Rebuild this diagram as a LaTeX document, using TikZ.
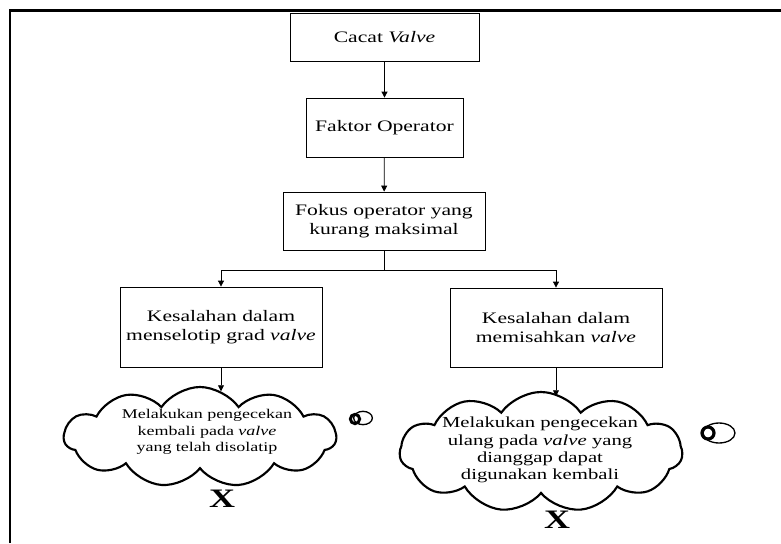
\documentclass[tikz,border=0pt]{standalone}
\usepackage{fontspec}
\setmainfont{Liberation Serif}[FakeStretch=1.35]
\usetikzlibrary{arrows.meta,shapes.symbols}

\begin{document}
\begin{tikzpicture}[%
        x=0.75pt, y=-0.75pt,
        kotak/.style={draw, line width=0.6pt, align=center, inner sep=2pt,
            font=\fontsize{12}{14}\selectfont},
        awan/.style={cloud, draw, line width=1.6pt, cloud puffs=11,
            cloud puff arc=110, cloud ignores aspect, inner sep=0pt},
        panah/.style={-{Triangle[length=4.5pt,width=4.5pt]}, line width=0.6pt},
        silang/.style={font=\fontsize{20}{22}\selectfont\bfseries}
    ]
        \useasboundingbox (0,0) rectangle (781,543);
        % bingkai
        \draw [line width=1.9pt] (10,543) -- (10,10.5) -- (781,10.5);

        \node [kotak, minimum width=141.75pt, minimum height=36pt]
            (cacat) at (384.5,37) {Cacat \textit{Valve}};
        \node [kotak, minimum width=117.75pt, minimum height=44.25pt]
            (faktor) at (384.5,127.5) {Faktor Operator};
        \node [kotak, minimum width=151.5pt, minimum height=43.5pt]
            (fokus) at (384,221) {Fokus operator yang\\kurang maksimal};
        \node [kotak, minimum width=151.5pt, minimum height=60pt]
            (kiri) at (221,327) {Kesalahan dalam\\menselotip grad \textit{valve}};
        \node [kotak, minimum width=159pt, minimum height=59.25pt]
            (kanan) at (556,327.5) {Kesalahan dalam\\memisahkan \textit{valve}};

        % awan
        \node [awan, minimum width=204pt, minimum height=75pt]
            (awankiri) at (200,437) {};
        \node [awan, minimum width=212pt, minimum height=90pt]
            (awankanan) at (541,452) {};
        \node [align=center, font=\fontsize{10}{12.5}\selectfont]
            (teksawankiri) at (207,432)
            {Melakukan pengecekan\\kembali pada \textit{valve}\\yang telah disolatip};
        \node [align=center, font=\fontsize{11.5}{13}\selectfont]
            (teksawankanan) at (540,450)
            {Melakukan pengecekan\\ulang pada \textit{valve} yang\\dianggap dapat\\digunakan kembali};

        % ekor awan
        \draw [line width=2.2pt] (355,419) circle [radius=3.5pt];
        \draw [line width=1pt] (363,418) ellipse [x radius=7pt, y radius=5pt];
        \draw [line width=2.4pt] (708,433) circle [radius=4.5pt];
        \draw [line width=1pt] (719,433) ellipse [x radius=12pt, y radius=7.5pt];

        \node [silang] (xkiri) at (222,499) {X};
        \node [silang] (xkanan) at (557,520) {X};

        \foreach \a/\b in {cacat/faktor, faktor/fokus}
            \draw [panah] (\a) -- (\b);
        \coordinate (cabang) at (384,270);
        \draw [line width=0.6pt] (fokus) -- (cabang);
        \draw [panah] (cabang) -| (kiri);
        \draw [panah] (cabang) -| (kanan);
        \draw [panah] (kiri) -- ([yshift=-4pt]kiri |- awankiri.north);
        \draw [panah] (kanan) -- ([yshift=-4pt]kanan |- awankanan.north);
    \end{tikzpicture}
\end{document}
